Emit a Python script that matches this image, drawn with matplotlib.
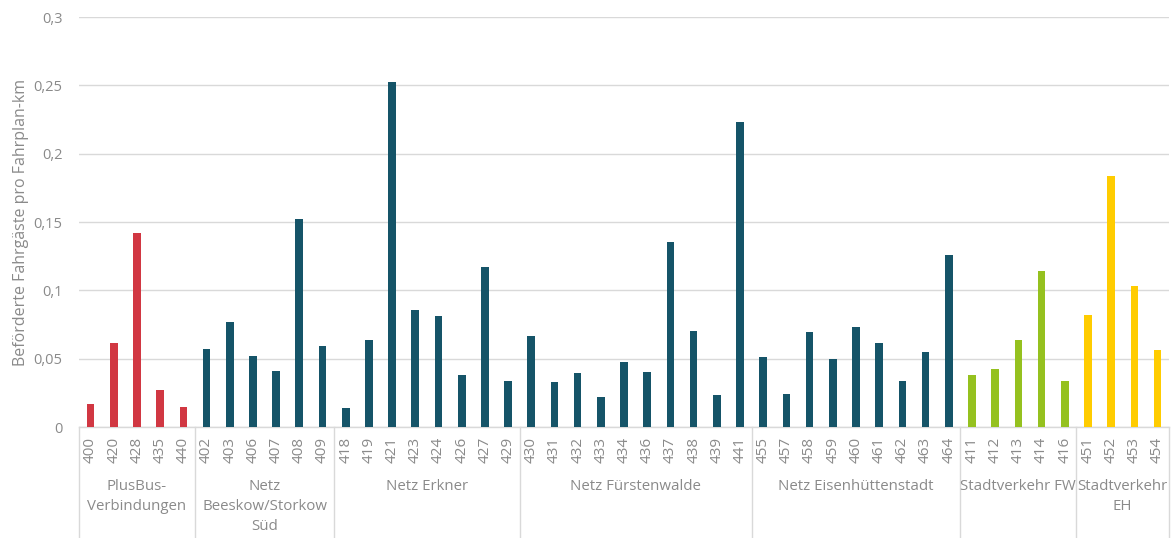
"""Befoerderte Fahrgaeste pro Fahrplan-km je Linie, gruppiert nach Netz."""

import matplotlib
matplotlib.use("Agg")
import matplotlib.pyplot as plt
from matplotlib.transforms import blended_transform_factory
import numpy as np

GROUP_NAMES = [
    "PlusBus-\nVerbindungen",
    "Netz\nBeeskow/Storkow\nSüd",
    "Netz Erkner",
    "Netz Fürstenwalde",
    "Netz Eisenhüttenstadt",
    "Stadtverkehr FW",
    "Stadtverkehr\nEH",
]
GROUP_LINES = [
    ["400", "420", "428", "435", "440"],
    ["402", "403", "406", "407", "408", "409"],
    ["418", "419", "421", "423", "424", "426", "427", "429"],
    ["430", "431", "432", "433", "434", "436", "437", "438", "439", "441"],
    ["455", "457", "458", "459", "460", "461", "462", "463", "464"],
    ["411", "412", "413", "414", "416"],
    ["451", "452", "453", "454"],
]
GROUP_VALUES = [
    [0.0171, 0.0618, 0.1422, 0.0271, 0.0148],
    [0.0570, 0.0766, 0.0520, 0.0412, 0.1525, 0.0595],
    [0.0138, 0.0640, 0.2528, 0.0859, 0.0814, 0.0377, 0.1173, 0.0337],
    [0.0666, 0.0332, 0.0392, 0.0221, 0.0477, 0.0402, 0.1357, 0.0704, 0.0236, 0.2229],
    [0.0510, 0.0244, 0.0693, 0.0497, 0.0731, 0.0616, 0.0334, 0.0550, 0.1259],
    [0.0377, 0.0422, 0.0640, 0.1138, 0.0339],
    [0.0819, 0.1834, 0.1035, 0.0560],
]
GROUP_COLORS = ["#D13742", "#155468", "#155468", "#155468", "#155468", "#95C11F", "#FFCC00"]

Y_TICKS = [0, 0.05, 0.1, 0.15, 0.2, 0.25, 0.3]
Y_TICK_LABELS = ["0", "0,05", "0,1", "0,15", "0,2", "0,25", "0,3"]
Y_LABEL = "Beförderte Fahrgäste pro Fahrplan-km"

TEXT_GRAY = "#8a8a8a"
GRID_GRAY = "#d9d9d9"

plt.rcParams["font.family"] = ["Open Sans", "DejaVu Sans"]


def main() -> None:
    fig = plt.figure(figsize=(11.75, 5.38), dpi=100)
    ax = fig.add_axes([0.0672, 0.2063, 0.9278, 0.7621])

    # Flatten the groups into one category axis.
    labels = [lab for grp in GROUP_LINES for lab in grp]
    values = [v for grp in GROUP_VALUES for v in grp]
    colors = [c for grp, c in zip(GROUP_LINES, GROUP_COLORS) for _ in grp]
    xx = np.arange(len(labels))

    ax.bar(xx, values, width=0.33, color=colors, zorder=3)

    ax.set_xlim(-0.5, len(labels) - 0.5)
    ax.set_ylim(0, 0.3)
    ax.set_yticks(Y_TICKS)
    ax.set_yticklabels(Y_TICK_LABELS)
    ax.set_xticks(xx)
    ax.set_xticklabels(labels, rotation=90)
    ax.tick_params(axis="x", length=0, pad=7, labelsize=11, labelcolor=TEXT_GRAY)
    ax.tick_params(axis="y", length=0, pad=12, labelsize=10.5, labelcolor=TEXT_GRAY)
    ax.set_ylabel(Y_LABEL, color=TEXT_GRAY, fontsize=11.5, labelpad=3)

    ax.grid(True, axis="y", color=GRID_GRAY, linewidth=1.0, zorder=0)
    for side in ("top", "right", "left"):
        ax.spines[side].set_visible(False)
    ax.spines["bottom"].set_color(GRID_GRAY)
    ax.spines["bottom"].set_linewidth(1.0)

    # Group labels and separators below the line labels.
    trans = blended_transform_factory(ax.transData, ax.transAxes)
    start = 0
    bounds = [-0.5]
    for name, grp in zip(GROUP_NAMES, GROUP_LINES):
        end = start + len(grp)
        center = (start + end - 1) / 2
        ax.text(center, -0.127, name, transform=trans, ha="center", va="top",
                color=TEXT_GRAY, fontsize=10.8, linespacing=1.45)
        bounds.append(end - 0.5)
        start = end
    for b in bounds:
        ax.plot([b, b], [0, -0.32], transform=trans, color=GRID_GRAY,
                linewidth=1.0, clip_on=False)

    fig.savefig("out.png", dpi=100, facecolor="white")
    plt.close(fig)


if __name__ == "__main__":
    main()
